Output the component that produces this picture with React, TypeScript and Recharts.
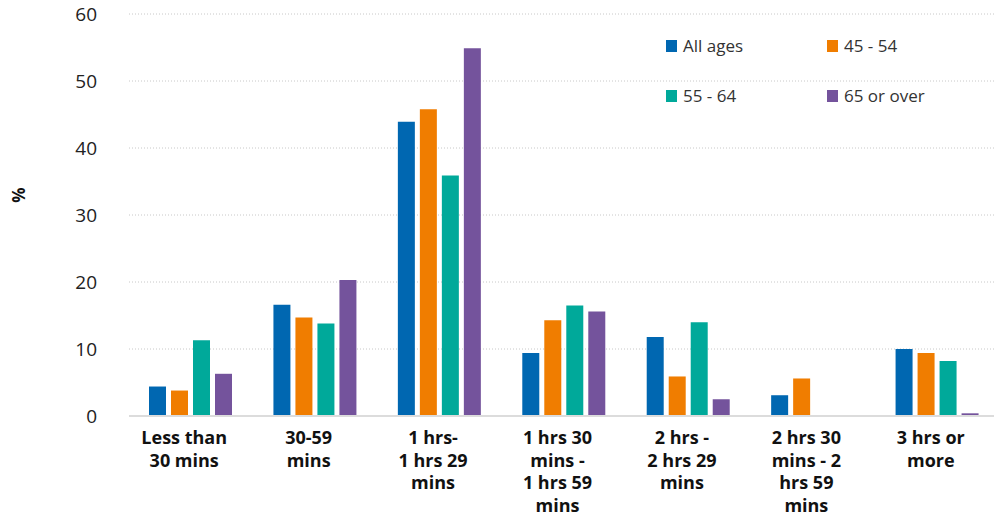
import React from 'react';
import { BarChart, Bar, XAxis, YAxis, CartesianGrid } from 'recharts';

const CATEGORIES = [
  'Less than\n30 mins',
  '30-59\nmins',
  '1 hrs-\n1 hrs 29\nmins',
  '1 hrs 30\nmins -\n1 hrs 59\nmins',
  '2 hrs -\n2 hrs 29\nmins',
  '2 hrs 30\nmins - 2\nhrs 59\nmins',
  '3 hrs or\nmore',
];
const ALL_AGES = [4.4, 16.6, 43.9, 9.4, 11.8, 3.1, 10.0];
const AGE_45_54 = [3.8, 14.7, 45.8, 14.3, 5.9, 5.6, 9.4];
const AGE_55_64 = [11.3, 13.8, 35.9, 16.5, 14.0, 0, 8.2];
const AGE_65_PLUS = [6.3, 20.3, 54.9, 15.6, 2.5, 0, 0.4];
const Y_TICKS = [0, 10, 20, 30, 40, 50, 60];

const SERIES = [
  { key: 'all', name: 'All ages', color: '#0067b1' },
  { key: 'a45', name: '45 - 54', color: '#f07d00' },
  { key: 'a55', name: '55 - 64', color: '#00a99a' },
  { key: 'a65', name: '65 or over', color: '#74539c' },
];

const data = CATEGORIES.map((name, i) => ({
  name,
  all: ALL_AGES[i],
  a45: AGE_45_54[i],
  a55: AGE_55_64[i],
  a65: AGE_65_PLUS[i],
}));

const FONT = '"Open Sans", sans-serif';

const CategoryTick = ({ x, y, payload }: any) => {
  const lines = String(payload.value).split('\n');
  return (
    <text
      x={x - 7}
      y={y}
      textAnchor="middle"
      fontFamily={FONT}
      fontSize={18}
      fontWeight={700}
      fill="#111"
    >
      {lines.map((line, i) => (
        <tspan key={i} x={x - 7} dy={i === 0 ? 20 : 22.5}>
          {line}
        </tspan>
      ))}
    </text>
  );
};

const LegendBlock = () => (
  <div style={{ position: 'absolute', left: 0, top: 0, fontFamily: FONT, fontSize: 17, color: '#333' }}>
    {SERIES.map((s, i) => {
      const left = i % 2 === 0 ? 666 : 827;
      const top = i < 2 ? 34 : 84;
      return (
        <div key={s.key} style={{ position: 'absolute', left, top, display: 'flex', alignItems: 'center', whiteSpace: 'nowrap' }}>
          <span style={{ width: 11, height: 12, background: s.color, display: 'inline-block', marginRight: 6 }} />
          <span>{s.name}</span>
        </div>
      );
    })}
  </div>
);

export default function App() {
  return (
    <div style={{ position: 'absolute', left: 0, top: 0, width: 994, height: 519, overflow: 'hidden', background: '#fff' }}>
      <BarChart
        width={1000}
        height={519}
        data={data}
        margin={{ top: 14, right: 0, left: 0, bottom: 8 }}
        barGap={5}
        barCategoryGap={20}
      >
        <CartesianGrid vertical={false} stroke="#c8c8c8" strokeDasharray="1 2" />
        <XAxis
          dataKey="name"
          interval={0}
          height={95}
          tickLine={false}
          axisLine={{ stroke: '#dcdcdc', strokeWidth: 2 }}
          tick={<CategoryTick />}
        />
        <YAxis
          width={129}
          domain={[0, 60]}
          ticks={Y_TICKS}
          axisLine={false}
          tickLine={false}
          tickMargin={26}
          tick={{ fontFamily: FONT, fontSize: 19, fill: '#222' }}
          label={() => (
            <text
              x={18}
              y={195}
              transform="rotate(-90 18 195)"
              textAnchor="middle"
              dominantBaseline="central"
              fontFamily={FONT}
              fontSize={17}
              fontWeight={700}
              fill="#111"
            >
              %
            </text>
          )}
        />
        {SERIES.map((s) => (
          <Bar key={s.key} dataKey={s.key} name={s.name} fill={s.color} isAnimationActive={false} />
        ))}
      </BarChart>
      <LegendBlock />
    </div>
  );
}
